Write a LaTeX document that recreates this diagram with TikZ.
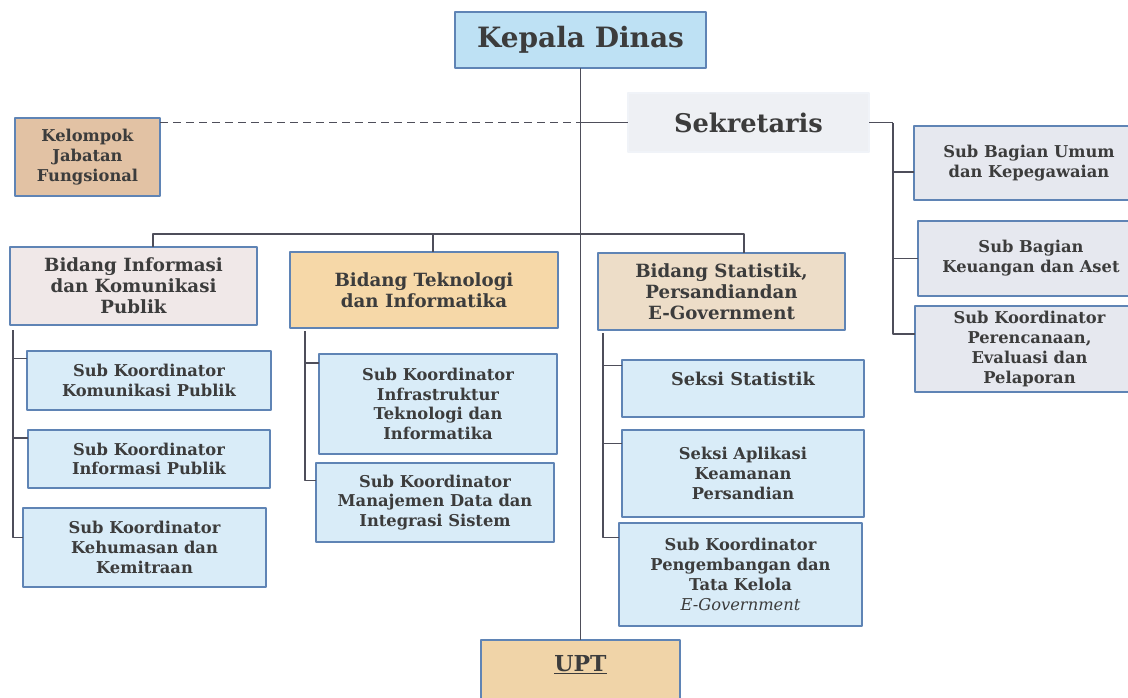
\documentclass[tikz,border=0pt]{standalone}
\usepackage{fontspec}
\setmainfont{DejaVu Serif}
\definecolor{ink}{HTML}{3C3C3C}
\definecolor{edge}{HTML}{5F84B5}
\definecolor{wire}{HTML}{4E4E5A}
\definecolor{kdfill}{HTML}{BEE1F4}
\definecolor{sekfill}{HTML}{EEF0F4}
\definecolor{jabfill}{HTML}{E2C2A4}
\definecolor{infofill}{HTML}{F0E8E8}
\definecolor{teknofill}{HTML}{F6D8A8}
\definecolor{statfill}{HTML}{EDDDC8}
\definecolor{subfill}{HTML}{D9ECF8}
\definecolor{bagfill}{HTML}{E6E8EF}
\definecolor{uptfill}{HTML}{F0D4A8}
\begin{document}
\begin{tikzpicture}[x=1pt, y=-1pt, line join=round,
	unit/.style={draw=edge, line width=1.3pt, inner sep=0pt, outer sep=0pt, align=center, text=ink, font=\bfseries\fontsize{16.3}{19.8}\selectfont},
	bidang/.style={unit, font=\bfseries\fontsize{18.2}{21}\selectfont},
	wires/.style={draw=wire, line width=1.1pt}]
	\fill[white] (0,0) rectangle (1128,697);
	\useasboundingbox (0,0) rectangle (1128,697);
	% pimpinan
	\node[unit, fill=kdfill, minimum width=251, minimum height=56, font=\bfseries\fontsize{28}{30}\selectfont] (kd) at (580.5,40) {Kepala Dinas};
	\node[unit, draw=sekfill!70!edge!25, fill=sekfill, minimum width=241, minimum height=59, font=\bfseries\fontsize{25.7}{27}\selectfont] (sek) at (748.5,122.5) {Sekretaris};
	\node[unit, fill=jabfill, minimum width=145, minimum height=78] (kjf) at (87.5,157) {Kelompok\\Jabatan\\Fungsional};
	\node[unit, fill=uptfill, minimum width=199, minimum height=60, font=\bfseries\fontsize{22}{24}\selectfont, text height=22pt, text depth=20pt] (upt) at (580.5,670) {\underline{UPT}};
	% sub bagian
	\node[unit, fill=bagfill, minimum width=230, minimum height=74] (sbu) at (1029,163) {Sub Bagian Umum\\dan Kepegawaian};
	\node[unit, fill=bagfill, minimum width=226, minimum height=75] (sbk) at (1031,258.5) {Sub Bagian\\Keuangan dan Aset};
	\node[unit, fill=bagfill, minimum width=229, minimum height=86] (spl) at (1029.5,349) {Sub Koordinator\\Perencanaan,\\Evaluasi dan\\Pelaporan};
	% bidang
	\node[bidang, fill=infofill, minimum width=247, minimum height=78] (bip) at (133.5,286) {Bidang Informasi\\dan Komunikasi\\Publik};
	\node[bidang, fill=teknofill, minimum width=268, minimum height=76] (bt) at (424,290) {Bidang Teknologi\\dan Informatika};
	\node[bidang, fill=statfill, minimum width=247, minimum height=77] (bs) at (721.5,291.5) {Bidang Statistik,\\Persandiandan\\E-Government};
	% seksi / sub koordinator
	\node[unit, fill=subfill, minimum width=244, minimum height=59] (kom) at (149,380.5) {Sub Koordinator\\Komunikasi Publik};
	\node[unit, fill=subfill, minimum width=242, minimum height=58] (inf) at (149,459) {Sub Koordinator\\Informasi Publik};
	\node[unit, fill=subfill, minimum width=243, minimum height=79] (keh) at (144.5,547.5) {Sub Koordinator\\Kehumasan dan\\Kemitraan};
	\node[unit, fill=subfill, minimum width=238, minimum height=100] (ift) at (438,404) {Sub Koordinator\\Infrastruktur\\Teknologi dan\\Informatika};
	\node[unit, fill=subfill, minimum width=238, minimum height=79] (mdi) at (435,502.5) {Sub Koordinator\\Manajemen Data dan\\Integrasi Sistem};
	\node[unit, fill=subfill, minimum width=242, minimum height=57, font=\bfseries\fontsize{17.7}{20}\selectfont, text height=13pt, text depth=20pt] (sst) at (743,388.5) {Seksi Statistik};
	\node[unit, fill=subfill, minimum width=242, minimum height=87] (sap) at (743,473.5) {Seksi Aplikasi\\Keamanan\\Persandian};
	\node[unit, fill=subfill, minimum width=243, minimum height=103] (spt) at (740.5,574.5) {Sub Koordinator\\Pengembangan dan\\Tata Kelola\\{\mdseries\itshape E-Government}};
	% garis
	\coordinate (bus) at (580.5,234);
	\coordinate (mid) at (kd.south |- sek.west);
	\coordinate (sv) at ([xshift=24pt]sek.east);
	\coordinate (lc) at ([xshift=3pt, yshift=-5pt]bip.south west);
	\coordinate (mc) at ([xshift=15pt, yshift=-3pt]bt.south west);
	\coordinate (rc) at ([xshift=5pt, yshift=-3pt]bs.south west);
	\draw[wires] (kd.south) -- (upt.north);
	\draw[wires, dash pattern=on 8pt off 5pt] (kjf.north east |- mid) -- (mid);
	\draw[wires] (mid) -- (sek.west);
	\draw[wires] ([xshift=19.5pt]bip.north) |- (bus) -| ([xshift=22.5pt]bs.north);
	\draw[wires] ([xshift=9pt]bt.north) -- ([xshift=9pt]bt.north |- bus);
	\draw[wires] (sek.east) -- (sv);
	\foreach \n/\s in {sbu/-9, sbk/0, spl/15} \draw[wires] ([yshift=\s pt]\n.west) -| (sv);
	\foreach \n/\s in {kom/22, inf/21, keh/10} \draw[wires] ([yshift=\s pt]\n.west) -| (lc);
	\foreach \n/\s in {ift/41, mdi/22} \draw[wires] ([yshift=\s pt]\n.west) -| (mc);
	\foreach \n/\s in {sst/23, sap/30, spt/37} \draw[wires] ([yshift=\s pt]\n.west) -| (rc);
\end{tikzpicture}
\end{document}
